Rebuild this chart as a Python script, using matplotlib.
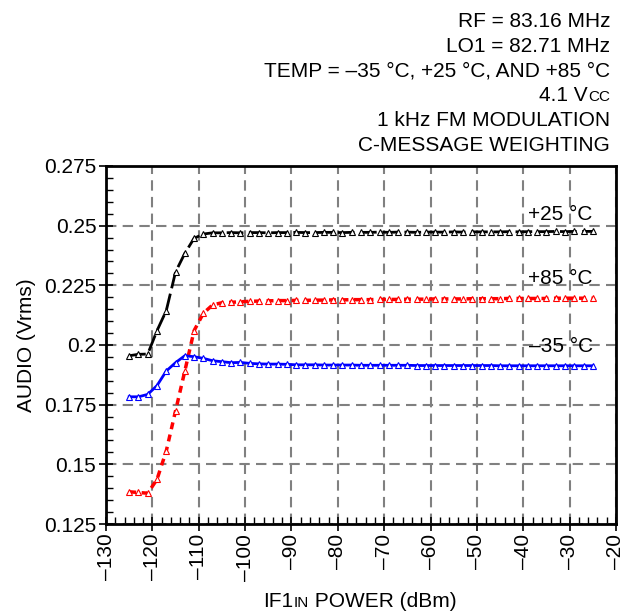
import matplotlib.pyplot as plt
import numpy as np
from matplotlib.ticker import MultipleLocator

plt.rcParams['font.family'] = ['Liberation Sans', 'DejaVu Sans']
plt.rcParams['font.size'] = 15

# IF1 input power (dBm), 2 dBm steps
power = np.arange(-125, -24, 2)

# audio level (Vrms)
audio_p25 = [0.1955, 0.1961, 0.1962, 0.2060, 0.2144, 0.2306, 0.2384, 0.2447, 0.2465, 0.2470,
             0.2470, 0.2471, 0.2470, 0.2471, 0.2471, 0.2470, 0.2471, 0.2471, 0.2472, 0.2471,
             0.2471, 0.2472, 0.2472, 0.2471, 0.2472, 0.2472, 0.2472, 0.2473, 0.2472, 0.2473,
             0.2473, 0.2472, 0.2473, 0.2473, 0.2473, 0.2474, 0.2473, 0.2474, 0.2474, 0.2474,
             0.2474, 0.2475, 0.2474, 0.2475, 0.2475, 0.2475, 0.2476, 0.2475, 0.2476, 0.2476,
             0.2476]
audio_p85 = [0.1385, 0.1382, 0.1379, 0.1437, 0.1556, 0.1724, 0.1891, 0.2060, 0.2133, 0.2168,
             0.2177, 0.2179, 0.2181, 0.2183, 0.2184, 0.2185, 0.2186, 0.2186, 0.2187, 0.2187,
             0.2188, 0.2188, 0.2189, 0.2189, 0.2190, 0.2190, 0.2190, 0.2191, 0.2191, 0.2191,
             0.2192, 0.2192, 0.2192, 0.2193, 0.2193, 0.2193, 0.2193, 0.2194, 0.2194, 0.2194,
             0.2194, 0.2195, 0.2195, 0.2195, 0.2195, 0.2195, 0.2196, 0.2196, 0.2196, 0.2196,
             0.2196]
audio_m35 = [0.1783, 0.1783, 0.1793, 0.1830, 0.1891, 0.1926, 0.1955, 0.1951, 0.1944, 0.1934,
             0.1930, 0.1926, 0.1927, 0.1923, 0.1921, 0.1920, 0.1920, 0.1919, 0.1917, 0.1917,
             0.1917, 0.1916, 0.1916, 0.1916, 0.1916, 0.1915, 0.1915, 0.1915, 0.1915, 0.1915,
             0.1915, 0.1914, 0.1914, 0.1914, 0.1914, 0.1914, 0.1914, 0.1914, 0.1914, 0.1914,
             0.1913, 0.1913, 0.1913, 0.1913, 0.1913, 0.1913, 0.1913, 0.1913, 0.1913, 0.1913,
             0.1913]

xticks = list(range(-130, -19, 10))
yticks = [0.125, 0.15, 0.175, 0.2, 0.225, 0.25, 0.275]
ytick_labels = ['0.125', '0.15', '0.175', '0.2', '0.225', '0.25', '0.275']

fig = plt.figure(figsize=(6.26, 6.15), dpi=100)
ax = fig.add_axes([106 / 626, 1 - 524 / 615, 510 / 626, 358 / 615])

ax.plot(power, audio_p25, color='black', lw=2, ls=(0, (6, 2)),
        marker='^', ms=4.5, mfc='white', mec='black', mew=0.8)
ax.plot(power, audio_p85, color='red', lw=2.5, ls=(0, (2, 1.6)),
        marker='^', ms=4.5, mfc='white', mec='red', mew=0.8)
ax.plot(power, audio_m35, color='blue', lw=2,
        marker='^', ms=4.5, mfc='white', mec='blue', mew=0.8)

ax.text(-25, 0.2545, '+25 °C', ha='right', va='center')
ax.text(-25, 0.228, '+85 °C', ha='right', va='center')
ax.text(-25, 0.1993, '–35 °C', ha='right', va='center')

ax.set_xlim(-130, -20)
ax.set_ylim(0.125, 0.275)
ax.set_xticks(xticks)
ax.set_xticklabels([str(t).replace('-', '–') for t in xticks], rotation=90)
ax.set_yticks(yticks)
ax.set_yticklabels(ytick_labels)
ax.xaxis.set_minor_locator(MultipleLocator(2))
ax.yaxis.set_minor_locator(MultipleLocator(0.005))
ax.tick_params(which='major', direction='inout', length=10, width=1.2, labelsize=15, pad=2)
ax.tick_params(which='minor', direction='in', length=5, width=1)
ax.grid(True, which='major', color='#808080', ls=(0, (5, 3)), lw=1.5)
for s in ax.spines.values():
    s.set_linewidth(2)

ax.set_ylabel('AUDIO (Vrms)', labelpad=6)

# header notes, right aligned
notes = ['RF = 83.16 MHz', 'LO1 = 82.71 MHz', 'TEMP = –35 °C, +25 °C, AND +85 °C',
         None, '1 kHz FM MODULATION', 'C-MESSAGE WEIGHTING']
W, H = 626, 615
xr = 610
for i, line in enumerate(notes):
    yb = 27 + i * 24.8
    if line is not None:
        fig.text(xr / W, 1 - yb / H, line, ha='right', va='baseline')

fig.canvas.draw()
rend = fig.canvas.get_renderer()

# "4.1 Vcc" with small CC
yb = 27 + 3 * 24.8
t_cc = fig.text(xr / W, 1 - yb / H, 'CC', ha='right', va='baseline', fontsize=11)
wcc = t_cc.get_window_extent(rend).width
fig.text((xr - wcc) / W, 1 - yb / H, '4.1 V', ha='right', va='baseline')

# x label "IF1IN POWER (dBm)" with small IN
parts = [('IF1', 15), ('IN', 11), (' POWER (dBm)', 15)]
widths = []
for txt, fs in parts:
    t = fig.text(0, 0, txt, fontsize=fs)
    widths.append(t.get_window_extent(rend).width)
    t.remove()
x0 = 360 - sum(widths) / 2
for (txt, fs), w in zip(parts, widths):
    fig.text(x0 / W, 1 - 607 / H, txt, ha='left', va='baseline', fontsize=fs)
    x0 += w

plt.savefig('out.png', dpi=100)
